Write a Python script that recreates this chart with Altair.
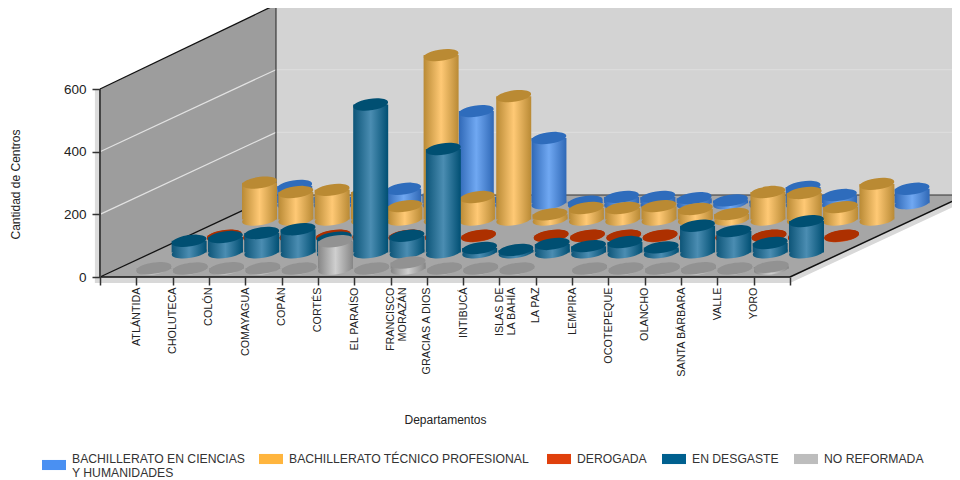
import altair as alt
import pandas as pd

departamentos = ["ATLÁNTIDA", "CHOLUTECA", "COLÓN", "COMAYAGUA", "COPÁN", "CORTÉS", "EL PARAÍSO",
                 "FRANCISCO|MORAZÁN", "GRACIAS A DIOS", "INTIBUCÁ", "ISLAS DE|LA BAHÍA", "LA PAZ",
                 "LEMPIRA", "OCOTEPEQUE", "OLANCHO", "SANTA BÁRBARA", "VALLE", "YORO"]

ciencias = [55, 20, 20, 46, 30, 294, 20, 208, 5, 20, 20, 16, 9, 8, 52, 26, None, 46]
tecnico = [118, 88, 95, 88, 43, 525, 72, 394, 17, 37, 37, 43, 34, 18, 88, 85, 40, 114]
derogada = [1, 1, 1, 1, 1, 1, 1, 1, None, 1, 1, 1, 1, 1, 1, 1, 1, 1]
desgaste = [37, 49, 62, 74, 47, 472, 53, 330, 14, 8, 27, 20, 33, 16, 85, 68, 30, 100]
no_reformada = [2, 1, 2, 2, 1, 88, 1, 20, 1, 1, 1, None, 1, 1, 1, 2, 1, 6]

nombres = ["BACHILLERATO EN CIENCIAS Y HUMANIDADES", "BACHILLERATO TÉCNICO PROFESIONAL",
           "DEROGADA", "EN DESGASTE", "NO REFORMADA"]
colores_leyenda = ["#4a90f2", "#ffb53e", "#e0400c", "#00608f", "#bdbdbd"]
# side edge, side centre, side far edge, top cap
tonos = [("#2f68b6", "#70a8f2", "#2f68b6", "#2e6cbc"),
         ("#b98a35", "#ffc975", "#b98a35", "#ba8a33"),
         ("#ad3000", "#d8501c", "#ad3000", "#ad3000"),
         ("#0d5578", "#4b8db2", "#004f73", "#004f72"),
         ("#868686", "#cfcfcf", "#868686", "#929292")]
series = [ciencias, tecnico, derogada, desgaste, no_reformada]
profundidad = [0.9, 0.7, 0.5, 0.3, 0.1]

# projection: one category = 36.316 px, one value unit = 0.3133 px
ANCHO = 852
PX_X = 690 / 19
PX_Y = 0.3133
DX = 176 / PX_X           # wall depth along x, in category units
DY = 82 / PX_Y            # wall depth along y, in value units
XMAX = ANCHO / PX_X
YMAX = 269 / PX_Y
MEDIO = 17.5 / PX_X

posiciones = list(range(0, 20))
etiquetas = "['', " + ", ".join(f"'{n}'" for n in departamentos) + ", ''][datum.value]"
eje_x = alt.Axis(
    values=posiciones, title="Departamentos", titleFont="Liberation Sans", titleFontSize=12,
    titleFontWeight="normal", titleColor="#222222", titleX=345, titleY=137, titleAnchor="middle",
    labelExpr="split(" + etiquetas + ", '|')", labelAngle=-90, labelAlign="right",
    labelBaseline="middle", labelFont="Liberation Sans", labelFontSize=10.8, labelColor="#222222",
    labelOverlap=False, labelPadding=2, labelFlush=False, labelLineHeight=12, labelLimit=200, grid=False, domain=False,
    tickSize=8, tickColor="#333333", tickWidth=1.5, zindex=1)
eje_y = alt.Axis(
    values=[0, 200, 400, 600], title="Cantidad de Centros", titleFont="Liberation Sans", titleFontSize=12,
    titleFontWeight="normal", titleColor="#222222", titleX=-78, titleY=176, titleAngle=-90,
    labelFont="Liberation Sans", labelFontSize=13.5, labelColor="#222222", labelPadding=6, grid=False, domain=False,
    tickSize=8, tickColor="#333333", tickWidth=1.5, zindex=1)

xs = alt.Scale(domain=[0, XMAX], nice=False, zero=False)
ys = alt.Scale(domain=[0, YMAX], nice=False, zero=False)


def ex(campo):
    return alt.X(campo + ":Q", scale=xs, axis=eje_x)


def ey(campo):
    return alt.Y(campo + ":Q", scale=ys, axis=eje_y)


Y2 = alt.Y2("y2:Q")


def area(xv, yv, y2v, color):
    d = pd.DataFrame({"x": xv, "y": yv, "y2": y2v})
    return alt.Chart(d).mark_area(color=color, opacity=1, interpolate="linear").encode(x=ex("x"), y=ey("y"), y2=Y2)


def linea(xv, yv, color, w=1.0):
    d = pd.DataFrame({"x": xv, "y": yv})
    return alt.Chart(d).mark_line(color=color, strokeWidth=w).encode(x=ex("x"), y=ey("y"))


frac = (XMAX - 19) / DX
capas = [
    # shadows
    area([-0.14, 0], [600, 600], [-19, -19], "#dcdcdc"),
    area([-0.14, 19, XMAX], [0, 0, DY * frac], [-19, -19, DY * frac - 19], "#d8d8d8"),
    # walls and floor
    area([DX, XMAX], [600 + DY * 1.03, 600 + DY * 1.03], [DY, DY], "#d3d3d3"),
    area([0, DX], [600, 600 + DY * 1.03], [0, DY], "#9d9d9d"),
    area([0, DX, 19, XMAX], [0, DY, DY, DY], [0, 0, 0, DY * frac], "#a6a6a6"),
]
for v in (200, 400):
    capas.append(linea([0, DX], [v, v + DY], "#e2e2e2", 1.2))
    capas.append(linea([DX, XMAX], [v + DY, v + DY], "#dedede", 1))
capas += [
    linea([0, DX], [600, 600 + DY * 1.03], "#111111", 1.3),
    linea([DX, DX], [DY, 600 + DY * 1.03], "#222222", 1),
    linea([0, DX], [0, DY], "#111111", 1.3),
    linea([DX, XMAX], [DY, DY], "#333333", 1.2),
    linea([19, XMAX], [0, DY * frac], "#111111", 1.5),
    linea([0, 19], [0, 0], "#111111", 1.5),
    linea([0, 0], [0, 600], "#444444", 2),
]

ELIPSE = "M-0.99,0.139A1,0.32,-8,1,1,0.99,-0.139A1,0.32,-8,1,1,-0.99,0.139Z"
for nombre, vals, prof, tono in zip(nombres, series, profundidad, tonos):
    filas = []
    for i, v in enumerate(vals, start=1):
        if v is None:
            continue
        filas.append({"dep": departamentos[i - 1].replace("|", " "), "serie": nombre, "valor": v,
                      "cx": i + prof * DX, "x0": i + prof * DX - MEDIO, "x1": i + prof * DX + MEDIO,
                      "y": prof * DY + v, "y2": prof * DY})
    d = pd.DataFrame(filas)
    grad = alt.Gradient(gradient="linear", x1=0, x2=1, y1=0, y2=0,
                        stops=[alt.GradientStop(offset=0, color=tono[0]),
                               alt.GradientStop(offset=0.5, color=tono[1]),
                               alt.GradientStop(offset=1, color=tono[2])])
    base = alt.Chart(d)
    capas.append(base.mark_point(shape=ELIPSE, size=1225, filled=True, fill=grad, opacity=1, strokeWidth=0)
                 .encode(x=ex("cx"), y=ey("y2")))
    capas.append(base.mark_rect(fill=grad, opacity=1, strokeWidth=0)
                 .encode(x=ex("x0"), x2=alt.X2("x1:Q"), y=ey("y"), y2=Y2))
    capas.append(base.mark_point(shape=ELIPSE, size=1225, filled=True, fill=tono[3], opacity=1, strokeWidth=0)
                 .encode(x=ex("cx"), y=ey("y")))

# legend, top-aligned as in the reference
TECLA = "M-1,-0.42H1V0.42H-1Z"
ley_x = [-46, 171, 459, 574, 706]     # swatch centre, px from plot left
ley_y = [457, 451, 451, 451, 451]     # swatch centre, px from plot top
ley_lineas = [["BACHILLERATO EN CIENCIAS", "Y HUMANIDADES"], ["BACHILLERATO TÉCNICO PROFESIONAL"],
              ["DEROGADA"], ["EN DESGASTE"], ["NO REFORMADA"]]
capas_ley = []
for lx, ly, color, lineas in zip(ley_x, ley_y, colores_leyenda, ley_lineas):
    one = pd.DataFrame({"a": [0]})
    capas_ley.append(alt.Chart(one).mark_point(shape=TECLA, size=576, filled=True, fill=color, opacity=1, strokeWidth=0)
                     .encode(x=alt.value(lx), y=alt.value(ly)))
    for k, texto in enumerate(lineas):
        capas_ley.append(alt.Chart(one).mark_text(text=texto, align="left", baseline="middle", font="Liberation Sans",
                                                  fontSize=12.2, color="#333333")
                         .encode(x=alt.value(lx + 18), y=alt.value(451 + 14 * k)))

chart = alt.layer(*(capas + capas_ley)).properties(
    width=ANCHO, height=269,
    padding={"left": 92, "top": 0, "right": 0, "bottom": 203},
    autosize=alt.AutoSizeParams(type="none"),
    background="#ffffff",
).configure_view(stroke=None)

chart.save("out.html", embed_options={"renderer": "svg", "actions": False})
